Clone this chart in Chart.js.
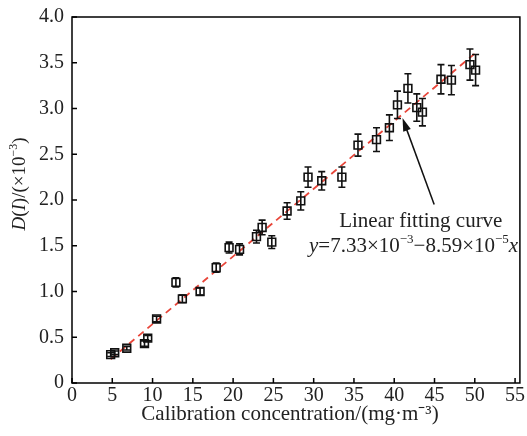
<!DOCTYPE html>
<html>
<head>
<meta charset="utf-8">
<script src="https://cdn.jsdelivr.net/npm/chart.js@4/dist/chart.umd.min.js"></script>
<style>
  html, body { margin: 0; padding: 0; background: #fff; }
  #wrap { width: 527px; height: 436px; position: relative; }
</style>
</head>
<body>
<div id="wrap"><canvas id="chart"></canvas></div>
<script>
// calibration concentration (mg/m3)
var concX = [4.8, 5.3, 6.8, 9.0, 9.4, 10.5, 12.9, 13.7, 15.9, 17.9, 19.5, 20.8, 22.9, 23.6, 24.8, 26.7,
             28.4, 29.3, 31.0, 33.5, 35.5, 37.8, 39.4, 40.4, 41.7, 42.8, 43.5, 45.8, 47.1, 49.4, 50.1];
// D(I) x10^-3
var dVals = [0.31, 0.33, 0.38, 0.43, 0.49, 0.70, 1.10, 0.92, 1.00, 1.26, 1.48, 1.46, 1.60, 1.70, 1.54, 1.88,
             1.99, 2.25, 2.21, 2.25, 2.60, 2.66, 2.79, 3.04, 3.22, 3.01, 2.96, 3.32, 3.31, 3.48, 3.42];
var dErr  = [0.02, 0.02, 0.02, 0.03, 0.03, 0.03, 0.05, 0.04, 0.04, 0.05, 0.06, 0.06, 0.07, 0.08, 0.07, 0.09,
             0.10, 0.11, 0.10, 0.11, 0.12, 0.13, 0.14, 0.15, 0.16, 0.15, 0.15, 0.16, 0.16, 0.17, 0.17];
// fitted line end points
var fitX = [4.8, 50.0];
var fitY = [0.26, 3.60];

var xTicks = [0, 5, 10, 15, 20, 25, 30, 35, 40, 45, 50, 55];
var yTicks = [0, 0.5, 1.0, 1.5, 2.0, 2.5, 3.0, 3.5, 4.0];

var serif = '"Liberation Serif", "Times New Roman", serif';

var pts = concX.map(function (x, i) { return { x: x, y: dVals[i] }; });
var fitPts = fitX.map(function (x, i) { return { x: x, y: fitY[i] }; });

// error bars, box, inward ticks, titles and annotation
var extras = {
    id: 'extras',
    afterDatasetsDraw: function (chart) {
        var ctx = chart.ctx, xs = chart.scales.x, ys = chart.scales.y, a = chart.chartArea;
        ctx.save();
        ctx.strokeStyle = '#111';
        ctx.lineWidth = 1.6;
        pts.forEach(function (p, i) {
            var px = xs.getPixelForValue(p.x);
            var y1 = ys.getPixelForValue(p.y + dErr[i]);
            var y2 = ys.getPixelForValue(p.y - dErr[i]);
            ctx.beginPath();
            ctx.moveTo(px, y1); ctx.lineTo(px, y2);
            ctx.moveTo(px - 3.5, y1); ctx.lineTo(px + 3.5, y1);
            ctx.moveTo(px - 3.5, y2); ctx.lineTo(px + 3.5, y2);
            ctx.stroke();
        });

        // frame
        ctx.strokeStyle = '#000';
        ctx.lineWidth = 1.5;
        ctx.strokeRect(a.left, a.top, a.right - a.left, a.bottom - a.top);
        // inward ticks
        ctx.beginPath();
        xTicks.forEach(function (v) {
            var px = xs.getPixelForValue(v);
            ctx.moveTo(px, a.bottom); ctx.lineTo(px, a.bottom - 5);
        });
        yTicks.forEach(function (v) {
            var py = ys.getPixelForValue(v);
            ctx.moveTo(a.left, py); ctx.lineTo(a.left + 5, py);
        });
        ctx.stroke();

        ctx.fillStyle = '#222';
        // x title
        ctx.font = '21px ' + serif;
        ctx.textAlign = 'center';
        ctx.textBaseline = 'middle';
        ctx.fillText('Calibration concentration/(mg\u00b7m\u207b\u00b3)', 290, 414);

        // y title, rotated
        ctx.save();
        ctx.translate(20, 184);
        ctx.rotate(-Math.PI / 2);
        drawRuns(ctx, [
            ['D', 'italic 19px ' + serif, 0],
            ['(', '19px ' + serif, 0],
            ['I', 'italic 19px ' + serif, 0],
            [')/(\u00d710', '19px ' + serif, 0],
            ['\u22123', '12px ' + serif, -6],
            [')', '19px ' + serif, 0]
        ], 0, 0);
        ctx.restore();

        // annotation
        ctx.font = '21px ' + serif;
        ctx.textAlign = 'center';
        ctx.fillText('Linear fitting curve', xs.getPixelForValue(43.3), ys.getPixelForValue(1.77));
        drawRuns(ctx, [
            ['y', 'italic 21px ' + serif, 0],
            ['=7.33\u00d710', '21px ' + serif, 0],
            ['\u22123', '13px ' + serif, -7],
            ['\u22128.59\u00d710', '21px ' + serif, 0],
            ['\u22125', '13px ' + serif, -7],
            ['x', 'italic 21px ' + serif, 0]
        ], xs.getPixelForValue(42.4), ys.getPixelForValue(1.49));

        // arrow
        var sx = xs.getPixelForValue(44.96), sy = ys.getPixelForValue(1.95);
        var tx = xs.getPixelForValue(41.03), ty = ys.getPixelForValue(2.895);
        var ang = Math.atan2(ty - sy, tx - sx);
        ctx.strokeStyle = '#111';
        ctx.lineWidth = 1.5;
        ctx.beginPath();
        ctx.moveTo(sx, sy);
        ctx.lineTo(tx - 8 * Math.cos(ang), ty - 8 * Math.sin(ang));
        ctx.stroke();
        ctx.fillStyle = '#111';
        ctx.beginPath();
        ctx.moveTo(tx, ty);
        ctx.lineTo(tx - 13 * Math.cos(ang) + 4 * Math.sin(ang), ty - 13 * Math.sin(ang) - 4 * Math.cos(ang));
        ctx.lineTo(tx - 13 * Math.cos(ang) - 4 * Math.sin(ang), ty - 13 * Math.sin(ang) + 4 * Math.cos(ang));
        ctx.closePath();
        ctx.fill();
        ctx.restore();
    }
};

// draw text pieces centred on (cx, cy), each [text, font, yShift]
function drawRuns(ctx, runs, cx, cy) {
    ctx.save();
    ctx.textAlign = 'left';
    ctx.textBaseline = 'middle';
    var total = 0;
    runs.forEach(function (r) { ctx.font = r[1]; total += ctx.measureText(r[0]).width; });
    var x = cx - total / 2;
    runs.forEach(function (r) {
        ctx.font = r[1];
        ctx.fillText(r[0], x, cy + r[2]);
        x += ctx.measureText(r[0]).width;
    });
    ctx.restore();
}

new Chart(document.getElementById('chart'), {
    type: 'scatter',
    data: {
        datasets: [{
            label: 'fit',
            type: 'line',
            data: fitPts,
            borderColor: '#e8463a',
            borderWidth: 1.8,
            borderDash: [7, 5],
            pointRadius: 0,
            fill: false,
            order: 2
        }, {
            label: 'D(I)',
            data: pts,
            pointStyle: 'rect',
            pointRadius: 5.5,
            pointBorderWidth: 1.6,
            pointBorderColor: '#111',
            pointBackgroundColor: 'rgba(255,255,255,0)',
            order: 1
        }]
    },
    options: {
        responsive: true,
        maintainAspectRatio: false,
        animation: false,
        layout: { padding: { top: 17, right: 4, left: 0, bottom: 0 } },
        plugins: {
            legend: { display: false },
            tooltip: { enabled: false }
        },
        scales: {
            x: {
                type: 'linear',
                min: 0, max: 55.6,
                afterBuildTicks: function (s) { s.ticks = xTicks.map(function (v) { return { value: v }; }); },
                afterFit: function (s) { s.height = 53; s.paddingLeft = 0; s.paddingRight = 0; },
                grid: { display: false, drawTicks: false },
                border: { display: false },
                ticks: {
                    padding: 1,
                    color: '#222',
                    font: { family: serif, size: 20 },
                    maxRotation: 0,
                    autoSkip: false
                }
            },
            y: {
                type: 'linear',
                min: 0, max: 4,
                afterBuildTicks: function (s) { s.ticks = yTicks.map(function (v) { return { value: v }; }); },
                afterFit: function (s) { s.width = 72; s.paddingTop = 0; s.paddingBottom = 0; },
                grid: { display: false, drawTicks: false },
                border: { display: false },
                ticks: {
                    padding: 8,
                    color: '#222',
                    font: { family: serif, size: 20 },
                    autoSkip: false,
                    callback: function (v) { return v === 0 ? '0' : v.toFixed(1); }
                }
            }
        }
    },
    plugins: [extras]
});
</script>
</body>
</html>
